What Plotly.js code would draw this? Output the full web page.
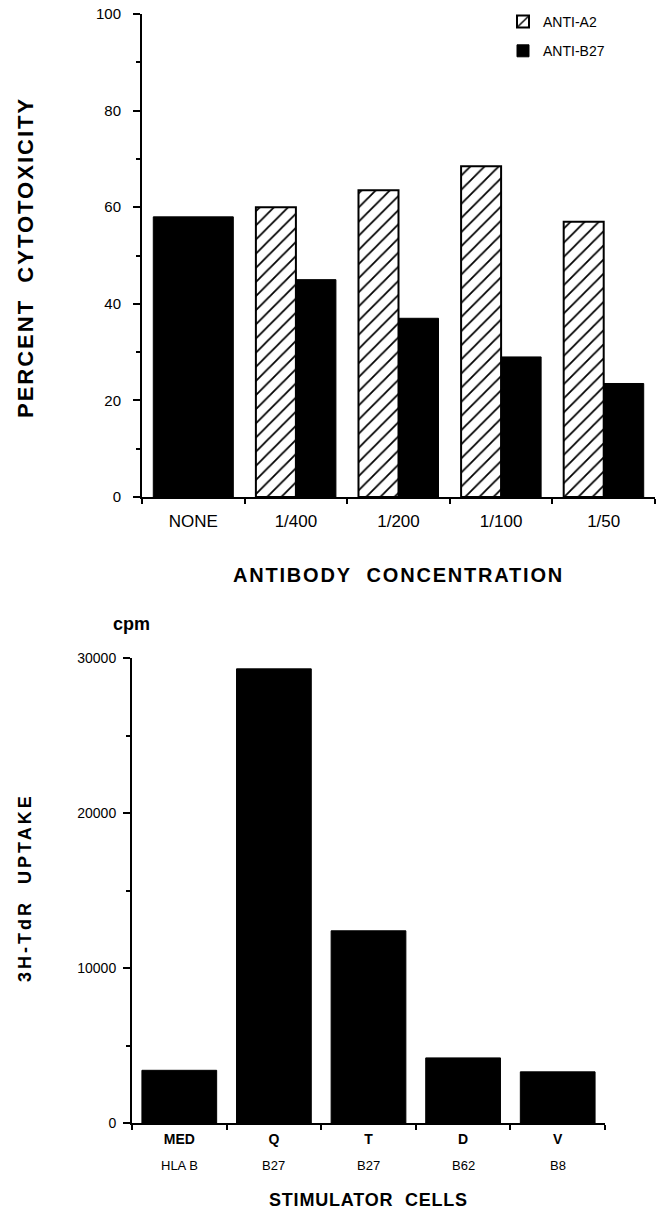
<!DOCTYPE html>
<html>
<head>
<meta charset="utf-8">
<script src="https://cdn.plot.ly/plotly-3.0.1.min.js"></script>
<style>html,body{margin:0;padding:0;background:#fff;}#chart{width:664px;height:1215px;}</style>
</head>
<body>
<div id="chart"></div>
<script>
// ---- Top panel data ----
const concCategories = ['NONE', '1/400', '1/200', '1/100', '1/50'];
const controlCategory = ['NONE'];
const controlValue = [58];
const antibodyCategories = ['1/400', '1/200', '1/100', '1/50'];
const antiA2 = [60, 63.5, 68.5, 57];
const antiB27 = [45, 37, 29, 23.5];

// ---- Bottom panel data ----
const stimCategories = ['MED', 'Q', 'T', 'D', 'V'];
const hlaLabels = ['HLA B', 'B27', 'B27', 'B62', 'B8'];
const uptake = [3400, 29300, 12400, 4200, 3300];

const W = 664, H = 1215;
const px = v => v / W;
const py = v => 1 - v / H;
const FONT = 'Liberation Sans, Arial, Helvetica, sans-serif';
const spaced = (t, s) => '<span style="letter-spacing:' + s + 'px"><b>' + t + '</b></span>';

const traces = [
  {
    type: 'bar', x: controlCategory, y: controlValue, name: 'NONE',
    xaxis: 'x', yaxis: 'y', width: 0.78, showlegend: false,
    marker: {color: 'black', line: {color: 'black', width: 1}}
  },
  {
    type: 'bar', x: antibodyCategories, y: antiA2, name: 'ANTI-A2',
    xaxis: 'x', yaxis: 'y', width: 0.39, offset: -0.39, legendgroup: 'a2',
    marker: {color: 'white', line: {color: 'black', width: 2},
             pattern: {shape: '/', fgcolor: 'black', bgcolor: 'white', size: 10, solidity: 0.18}}
  },
  {
    type: 'bar', x: antibodyCategories, y: antiB27, name: 'ANTI-B27',
    xaxis: 'x', yaxis: 'y', width: 0.39, offset: 0, legendgroup: 'b27',
    marker: {color: 'black', line: {color: 'black', width: 1}}
  },
  {
    type: 'bar', x: stimCategories, y: uptake, name: '3H-TdR uptake',
    xaxis: 'x2', yaxis: 'y2', width: 0.79, showlegend: false,
    marker: {color: 'black', line: {color: 'black', width: 1}}
  }
];

const annotations = [
  {text: spaced('ANTIBODY\u00a0\u00a0CONCENTRATION', 1.8), xref: 'paper', yref: 'paper',
   x: px(398), y: py(575), showarrow: false, xanchor: 'center', yanchor: 'middle',
   font: {size: 20, color: 'black'}},
  {text: spaced('PERCENT\u00a0\u00a0CYTOTOXICITY', 2), xref: 'paper', yref: 'paper',
   x: px(25), y: py(258), showarrow: false, textangle: -90, xanchor: 'center', yanchor: 'middle',
   font: {size: 22, color: 'black'}},
  {text: '<b>cpm</b>', xref: 'paper', yref: 'paper',
   x: px(131), y: py(624), showarrow: false, xanchor: 'center', yanchor: 'middle',
   font: {size: 18, color: 'black'}},
  {text: spaced('3H-TdR\u00a0\u00a0UPTAKE', 3), xref: 'paper', yref: 'paper',
   x: px(25), y: py(888), showarrow: false, textangle: -90, xanchor: 'center', yanchor: 'middle',
   font: {size: 18, color: 'black'}},
  {text: spaced('STIMULATOR\u00a0\u00a0CELLS', 0.8), xref: 'paper', yref: 'paper',
   x: px(368), y: py(1200), showarrow: false, xanchor: 'center', yanchor: 'middle',
   font: {size: 18, color: 'black'}}
];
stimCategories.forEach((c, i) => {
  annotations.push({text: hlaLabels[i], xref: 'x2', yref: 'paper', x: c, y: py(1165),
    showarrow: false, xanchor: 'center', yanchor: 'middle', font: {size: 13, color: 'black'}});
});

const axisCommon = {
  showline: true, linecolor: 'black', linewidth: 2, showgrid: false, zeroline: false,
  ticks: 'outside', tickcolor: 'black', tickwidth: 2, fixedrange: true
};

const layout = {
  width: W, height: H, autosize: false,
  margin: {l: 0, r: 0, t: 0, b: 0, pad: 0},
  paper_bgcolor: 'white', plot_bgcolor: 'white',
  font: {family: FONT, color: 'black'},
  barmode: 'overlay', bargap: 0,
  showlegend: true,
  legend: {x: px(503), y: py(6), xanchor: 'left', yanchor: 'top', traceorder: 'grouped',
           tracegroupgap: 8, font: {size: 14, color: 'black'}, bgcolor: 'rgba(0,0,0,0)'},
  xaxis: Object.assign({}, axisCommon, {
    domain: [px(142), px(655)], anchor: 'y', type: 'category',
    categoryorder: 'array', categoryarray: concCategories, range: [-0.5, 4.5],
    tickson: 'boundaries', ticklen: 5, ticklabelstandoff: 8,
    tickfont: {size: 17, color: 'black'}
  }),
  yaxis: Object.assign({}, axisCommon, {
    domain: [py(497), py(14)], anchor: 'x', range: [0, 100],
    tickvals: [0, 20, 40, 60, 80, 100], ticklen: 7, ticklabelstandoff: 9,
    minor: {tickvals: [10, 30, 50, 70, 90], ticks: 'outside', ticklen: 4, tickwidth: 2, tickcolor: 'black'},
    tickfont: {size: 15, color: 'black'}
  }),
  xaxis2: Object.assign({}, axisCommon, {
    domain: [px(132), px(605)], anchor: 'y2', type: 'category',
    categoryorder: 'array', categoryarray: stimCategories, range: [-0.5, 4.5],
    tickson: 'boundaries', ticklen: 5, ticklabelstandoff: 2,
    tickfont: {size: 14, color: 'black', weight: 'bold'}
  }),
  yaxis2: Object.assign({}, axisCommon, {
    domain: [py(1123), py(658)], anchor: 'x2', range: [0, 30000],
    tickvals: [0, 10000, 20000, 30000], ticktext: ['0', '10000', '20000', '30000'],
    ticklen: 7, ticklabelstandoff: 4,
    minor: {tickvals: [5000, 15000, 25000], ticks: 'outside', ticklen: 4, tickwidth: 2, tickcolor: 'black'},
    tickfont: {size: 14, color: 'black'}
  }),
  annotations: annotations
};

Plotly.newPlot('chart', traces, layout, {displayModeBar: false, staticPlot: true});
</script>
</body>
</html>
